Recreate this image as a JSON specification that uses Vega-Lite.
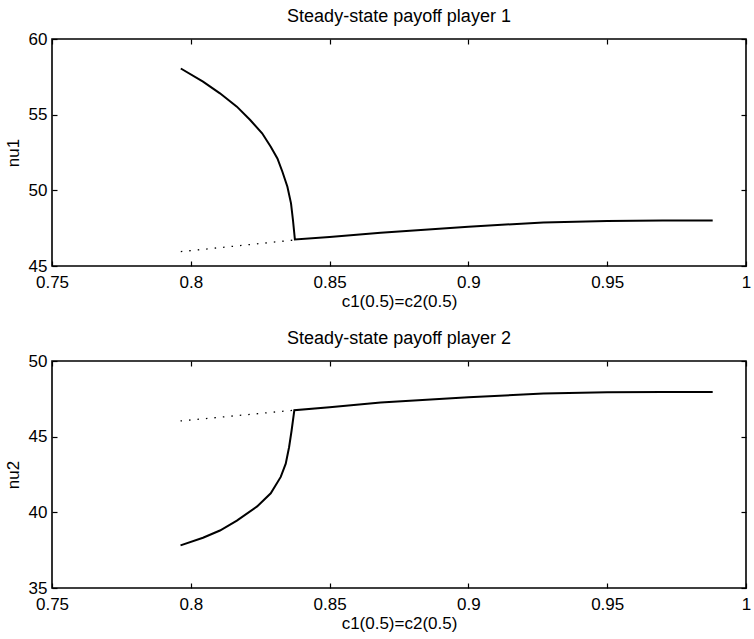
{
  "$schema": "https://vega.github.io/schema/vega-lite/v6.json",
  "background": "white",
  "padding": {"left": 3, "top": 7, "right": 2, "bottom": 3},
  "spacing": 19,
  "config": {
    "font": "Liberation Sans",
    "view": {"stroke": "black", "strokeWidth": 1.6},
    "axis": {
      "grid": false,
      "domain": false,
      "ticks": true,
      "tickColor": "black",
      "tickWidth": 1.2,
      "tickSize": -5,
      "labelColor": "black",
      "labelFontSize": 17,
      "labelFlush": false,
      "labelOverlap": false,
      "titleColor": "black",
      "titleFontSize": 17,
      "titleFontWeight": "normal"
    },
    "axisX": {"labelPadding": 13, "titlePadding": 3},
    "axisY": {"labelPadding": 10, "titlePadding": 6},
    "title": {"fontSize": 18, "fontWeight": "normal", "color": "black", "offset": 4}
  },
  "datasets": {
    "payoff": [
      {"player": 1, "branch": "solid", "i": 0, "c": 0.7964, "nu": 58.05},
      {"player": 1, "branch": "solid", "i": 1, "c": 0.8044, "nu": 57.18},
      {"player": 1, "branch": "solid", "i": 2, "c": 0.8105, "nu": 56.41},
      {"player": 1, "branch": "solid", "i": 3, "c": 0.8166, "nu": 55.53},
      {"player": 1, "branch": "solid", "i": 4, "c": 0.8214, "nu": 54.65},
      {"player": 1, "branch": "solid", "i": 5, "c": 0.8257, "nu": 53.77},
      {"player": 1, "branch": "solid", "i": 6, "c": 0.8288, "nu": 52.88},
      {"player": 1, "branch": "solid", "i": 7, "c": 0.8312, "nu": 52.11},
      {"player": 1, "branch": "solid", "i": 8, "c": 0.833, "nu": 51.23},
      {"player": 1, "branch": "solid", "i": 9, "c": 0.8348, "nu": 50.24},
      {"player": 1, "branch": "solid", "i": 10, "c": 0.8361, "nu": 49.14},
      {"player": 1, "branch": "solid", "i": 11, "c": 0.8368, "nu": 48.04},
      {"player": 1, "branch": "solid", "i": 12, "c": 0.8375, "nu": 46.75},
      {"player": 1, "branch": "solid", "i": 13, "c": 0.85, "nu": 46.92},
      {"player": 1, "branch": "solid", "i": 14, "c": 0.8684, "nu": 47.2},
      {"player": 1, "branch": "solid", "i": 15, "c": 0.9, "nu": 47.6},
      {"player": 1, "branch": "solid", "i": 16, "c": 0.927, "nu": 47.88},
      {"player": 1, "branch": "solid", "i": 17, "c": 0.95, "nu": 47.98},
      {"player": 1, "branch": "solid", "i": 18, "c": 0.97, "nu": 48.0},
      {"player": 1, "branch": "solid", "i": 19, "c": 0.988, "nu": 48.0},
      {"player": 1, "branch": "dotted", "i": 0, "c": 0.7964, "nu": 45.95},
      {"player": 1, "branch": "dotted", "i": 1, "c": 0.8375, "nu": 46.72},
      {"player": 2, "branch": "solid", "i": 0, "c": 0.7963, "nu": 37.82},
      {"player": 2, "branch": "solid", "i": 1, "c": 0.8044, "nu": 38.32},
      {"player": 2, "branch": "solid", "i": 2, "c": 0.8105, "nu": 38.8},
      {"player": 2, "branch": "solid", "i": 3, "c": 0.8166, "nu": 39.45},
      {"player": 2, "branch": "solid", "i": 4, "c": 0.8239, "nu": 40.39},
      {"player": 2, "branch": "solid", "i": 5, "c": 0.8288, "nu": 41.26},
      {"player": 2, "branch": "solid", "i": 6, "c": 0.8324, "nu": 42.34},
      {"player": 2, "branch": "solid", "i": 7, "c": 0.8342, "nu": 43.22},
      {"player": 2, "branch": "solid", "i": 8, "c": 0.8354, "nu": 44.3},
      {"player": 2, "branch": "solid", "i": 9, "c": 0.8363, "nu": 45.39},
      {"player": 2, "branch": "solid", "i": 10, "c": 0.8373, "nu": 46.75},
      {"player": 2, "branch": "solid", "i": 11, "c": 0.85, "nu": 46.95},
      {"player": 2, "branch": "solid", "i": 12, "c": 0.8684, "nu": 47.25},
      {"player": 2, "branch": "solid", "i": 13, "c": 0.9, "nu": 47.6},
      {"player": 2, "branch": "solid", "i": 14, "c": 0.927, "nu": 47.85},
      {"player": 2, "branch": "solid", "i": 15, "c": 0.95, "nu": 47.93},
      {"player": 2, "branch": "solid", "i": 16, "c": 0.97, "nu": 47.95},
      {"player": 2, "branch": "solid", "i": 17, "c": 0.988, "nu": 47.95},
      {"player": 2, "branch": "dotted", "i": 0, "c": 0.7963, "nu": 46.04},
      {"player": 2, "branch": "dotted", "i": 1, "c": 0.8373, "nu": 46.75}
    ]
  },
  "vconcat": [
    {
      "title": "Steady-state payoff player 1",
      "width": 694,
      "height": 227,
      "data": {"name": "payoff"},
      "transform": [{"filter": "datum.player == 1"}],
      "layer": [
        {
          "transform": [{"filter": "datum.branch == 'solid'"}],
          "mark": {"type": "line", "color": "black", "strokeWidth": 2},
          "encoding": {
            "x": {"field": "c", "type": "quantitative", "scale": {"domain": [0.75, 1], "nice": false, "zero": false},
                  "axis": {"values": [0.75, 0.8, 0.85, 0.9, 0.95, 1], "format": "~g", "title": "c1(0.5)=c2(0.5)"}},
            "y": {"field": "nu", "type": "quantitative", "scale": {"domain": [45, 60], "nice": false, "zero": false},
                  "axis": {"values": [45, 50, 55, 60], "title": "nu1"}},
            "order": {"field": "i"}
          }
        },
        {
          "transform": [{"filter": "datum.branch == 'dotted'"}],
          "mark": {"type": "line", "color": "black", "strokeWidth": 1.3, "strokeDash": [1.5, 7]},
          "encoding": {
            "x": {"field": "c", "type": "quantitative",
                  "axis": {"orient": "top", "values": [0.75, 0.8, 0.85, 0.9, 0.95, 1], "labels": false, "title": null}},
            "y": {"field": "nu", "type": "quantitative",
                  "axis": {"orient": "right", "values": [45, 50, 55, 60], "labels": false, "title": null}},
            "order": {"field": "i"}
          }
        }
      ],
      "resolve": {"axis": {"x": "independent", "y": "independent"}}
    },
    {
      "title": "Steady-state payoff player 2",
      "width": 694,
      "height": 227,
      "data": {"name": "payoff"},
      "transform": [{"filter": "datum.player == 2"}],
      "layer": [
        {
          "transform": [{"filter": "datum.branch == 'solid'"}],
          "mark": {"type": "line", "color": "black", "strokeWidth": 2},
          "encoding": {
            "x": {"field": "c", "type": "quantitative", "scale": {"domain": [0.75, 1], "nice": false, "zero": false},
                  "axis": {"values": [0.75, 0.8, 0.85, 0.9, 0.95, 1], "format": "~g", "title": "c1(0.5)=c2(0.5)"}},
            "y": {"field": "nu", "type": "quantitative", "scale": {"domain": [35, 50], "nice": false, "zero": false},
                  "axis": {"values": [35, 40, 45, 50], "title": "nu2"}},
            "order": {"field": "i"}
          }
        },
        {
          "transform": [{"filter": "datum.branch == 'dotted'"}],
          "mark": {"type": "line", "color": "black", "strokeWidth": 1.3, "strokeDash": [1.5, 7]},
          "encoding": {
            "x": {"field": "c", "type": "quantitative",
                  "axis": {"orient": "top", "values": [0.75, 0.8, 0.85, 0.9, 0.95, 1], "labels": false, "title": null}},
            "y": {"field": "nu", "type": "quantitative",
                  "axis": {"orient": "right", "values": [35, 40, 45, 50], "labels": false, "title": null}},
            "order": {"field": "i"}
          }
        }
      ],
      "resolve": {"axis": {"x": "independent", "y": "independent"}}
    }
  ]
}
